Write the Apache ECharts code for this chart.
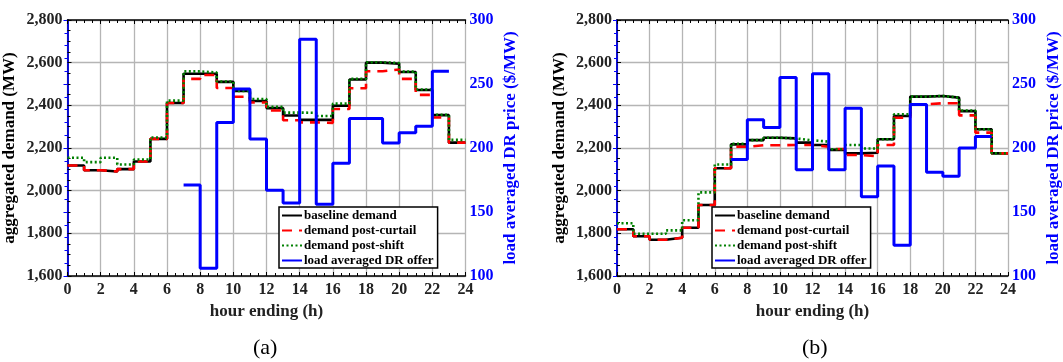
<!DOCTYPE html>
<html>
<head>
<meta charset="utf-8">
<script src="https://cdn.jsdelivr.net/npm/echarts@6.0.0/dist/echarts.min.js"></script>
<style>
  html, body { margin: 0; padding: 0; background: #fff; }
  #chart { width: 1063px; height: 362px; }
</style>
</head>
<body>
<div id="chart"></div>
<script>
// hourly values, hour h covers h..h+1
const hoursTicks = [0, 2, 4, 6, 8, 10, 12, 14, 16, 18, 20, 22, 24]

const baselineA = [2118, 2096, 2090, 2101, 2137, 2243, 2411, 2548, 2548, 2510, 2468, 2420,
  2387, 2352, 2332, 2332, 2398, 2521, 2600, 2595, 2556, 2472, 2354, 2225]
const curtailA = [2118, 2096, 2090, 2101, 2137, 2243, 2411, 2524, 2542, 2481, 2440, 2413,
  2376, 2330, 2320, 2318, 2383, 2480, 2560, 2568, 2524, 2449, 2343, 2225]
const shiftA = [2154, 2134, 2154, 2123, 2146, 2249, 2422, 2559, 2554, 2512, 2468, 2430,
  2393, 2366, 2365, 2350, 2408, 2524, 2602, 2598, 2558, 2474, 2356, 2238]
// DR offer price, hours 7..22
const offerA = [171, 106, 220, 246, 207, 167, 157, 285, 156, 188, 223, 223, 204, 212, 217, 260]

const baselineB = [1819, 1786, 1770, 1779, 1826, 1933, 2105, 2217, 2237, 2248, 2245, 2225,
  2214, 2191, 2175, 2178, 2241, 2350, 2441, 2444, 2436, 2373, 2288, 2175]
const curtailB = [1819, 1786, 1770, 1779, 1826, 1933, 2105, 2206, 2213, 2213, 2214, 2214,
  2206, 2195, 2167, 2161, 2214, 2342, 2405, 2410, 2410, 2353, 2272, 2175]
const shiftB = [1847, 1798, 1798, 1814, 1861, 1992, 2123, 2220, 2237, 2248, 2245, 2236,
  2230, 2194, 2214, 2198, 2241, 2358, 2441, 2444, 2436, 2376, 2288, 2175]
const offerB = [191, 222, 216, 255, 183, 258, 183, 231, 162, 186, 124, 234, 181, 178, 200, 209]

const offerStart = 7
const demandTicks = [1600, 1800, 2000, 2200, 2400, 2600, 2800]
const priceTicks = [100, 150, 200, 250, 300]

const FONT = "'Liberation Serif', 'Times New Roman', serif"
const gridsLeft = [67.5, 617]
const plotW = 398
const plotTop = 20
const plotH = 256

// step data: one point per hour start plus closing point
function steps(vals, start) {
  const pts = vals.map((v, i) => [start + i, v])
  pts.push([start + vals.length, vals[vals.length - 1]])
  return pts
}

function fmtComma(v) {
  return String(v).replace(/\B(?=(\d{3})+(?!\d))/g, ',')
}

const xAxes = []
const yAxes = []
const series = []
const sets = [
  [baselineA, curtailA, shiftA, offerA],
  [baselineB, curtailB, shiftB, offerB],
]

gridsLeft.forEach((left, g) => {
  xAxes.push({
    type: 'value', gridIndex: g, min: hoursTicks[0], max: hoursTicks[hoursTicks.length - 1],
    interval: hoursTicks[1] - hoursTicks[0],
    name: 'hour ending (h)', nameLocation: 'middle', nameGap: 22,
    nameTextStyle: { fontFamily: FONT, fontWeight: 'bold', fontSize: 17, color: '#222' },
    axisLine: { lineStyle: { color: '#000', width: 1.5 } },
    axisTick: { inside: true, length: 4, lineStyle: { color: '#000', width: 1 } },
    minorTick: { show: true, splitNumber: 4, length: 3, lineStyle: { color: '#000', width: 1 } },
    splitLine: { show: true, lineStyle: { color: '#b5b5b5', width: 1.3 } },
    axisLabel: { margin: 6, fontFamily: FONT, fontWeight: 'bold', fontSize: 16, color: '#222' },
  })
  xAxes.push({
    type: 'value', gridIndex: g, position: 'top', min: 0, max: 24, interval: 2,
    axisLine: { lineStyle: { color: '#000', width: 1.5 } },
    axisTick: { inside: true, length: 4, lineStyle: { color: '#000', width: 1 } },
    minorTick: { show: true, splitNumber: 4, length: 3, lineStyle: { color: '#000', width: 1 } },
    splitLine: { show: false },
    axisLabel: { show: false },
  })
  yAxes.push({
    type: 'value', gridIndex: g, position: 'left',
    min: demandTicks[0], max: demandTicks[demandTicks.length - 1], interval: demandTicks[1] - demandTicks[0],
    name: 'aggregated demand (MW)', nameLocation: 'middle', nameGap: 49, nameRotate: 90,
    nameTextStyle: { fontFamily: FONT, fontWeight: 'bold', fontSize: 17, color: '#000' },
    axisLine: { show: true, lineStyle: { color: '#000', width: 1.5 } },
    axisTick: { show: true, inside: true, length: 4, lineStyle: { color: '#000', width: 1 } },
    minorTick: { show: true, splitNumber: 4, length: 3, lineStyle: { color: '#000', width: 1 } },
    splitLine: { show: true, lineStyle: { color: '#b5b5b5', width: 1.3 } },
    axisLabel: { margin: 5, formatter: fmtComma, fontFamily: FONT, fontWeight: 'bold', fontSize: 16, color: '#222' },
  })
  yAxes.push({
    type: 'value', gridIndex: g, position: 'right',
    min: priceTicks[0], max: priceTicks[priceTicks.length - 1], interval: priceTicks[1] - priceTicks[0],
    name: 'load averaged DR price ($/MW)', nameLocation: 'middle', nameGap: 37, nameRotate: 90,
    nameTextStyle: { fontFamily: FONT, fontWeight: 'bold', fontSize: 17, color: '#0000ff' },
    axisLine: { show: true, lineStyle: { color: '#0000ff', width: 1.5 } },
    axisTick: { show: true, inside: true, length: 4, lineStyle: { color: '#0000ff', width: 1 } },
    minorTick: { show: true, splitNumber: 5, length: 3, lineStyle: { color: '#0000ff', width: 1 } },
    splitLine: { show: false },
    axisLabel: { margin: 4, fontFamily: FONT, fontWeight: 'bold', fontSize: 16, color: '#0000ff' },
  })

  const [base, curt, shift, offer] = sets[g]
  const common = { type: 'line', step: 'end', symbol: 'none', xAxisIndex: g * 2, animation: false, silent: true }
  series.push({ ...common, name: 'baseline demand', yAxisIndex: g * 2, data: steps(base, 0),
    lineStyle: { color: '#000', width: 2.6 }, itemStyle: { color: '#000' } })
  series.push({ ...common, name: 'demand post-curtail', yAxisIndex: g * 2, data: steps(curt, 0),
    lineStyle: { color: '#ff0000', width: 2.6, type: [10, 7] }, itemStyle: { color: '#ff0000' } })
  series.push({ ...common, name: 'demand post-shift', yAxisIndex: g * 2, data: steps(shift, 0),
    lineStyle: { color: '#008000', width: 2.6, type: [2, 2.5] }, itemStyle: { color: '#008000' } })
  series.push({ ...common, name: 'load averaged DR offer', yAxisIndex: g * 2 + 1, data: steps(offer, offerStart),
    lineStyle: { color: '#0000ff', width: 3 }, itemStyle: { color: '#0000ff' } })
})

const legendNames = ['baseline demand', 'demand post-curtail', 'demand post-shift', 'load averaged DR offer']
const legendLeft = [279, 712]
const legends = legendLeft.map(l => ({
  orient: 'vertical', left: l, top: 207,
  data: legendNames,
  itemWidth: 20, itemHeight: 14, itemGap: 2,
  padding: [2, 4, 1, 2],
  backgroundColor: '#fff', borderColor: '#000', borderWidth: 1.5, borderRadius: 0,
  selectedMode: false,
  itemStyle: { opacity: 0 },
  textStyle: { fontFamily: FONT, fontWeight: 'bold', fontSize: 13, color: '#000', padding: [0, 0, 0, -3] },
}))

const option = {
  animation: false,
  backgroundColor: '#fff',
  grid: gridsLeft.map(l => ({ left: l, top: plotTop, width: plotW, height: plotH, containLabel: false })),
  xAxis: xAxes,
  yAxis: yAxes,
  legend: legends,
  series: series,
  graphic: [
    { type: 'text', left: 253, top: 337, style: { text: '(a)', fontFamily: FONT, fontSize: 22, fill: '#000' } },
    { type: 'text', left: 802, top: 337, style: { text: '(b)', fontFamily: FONT, fontSize: 22, fill: '#000' } },
  ],
}

const myChart = echarts.init(document.getElementById('chart'), null, { renderer: 'canvas' })
myChart.setOption(option)
</script>
</body>
</html>
